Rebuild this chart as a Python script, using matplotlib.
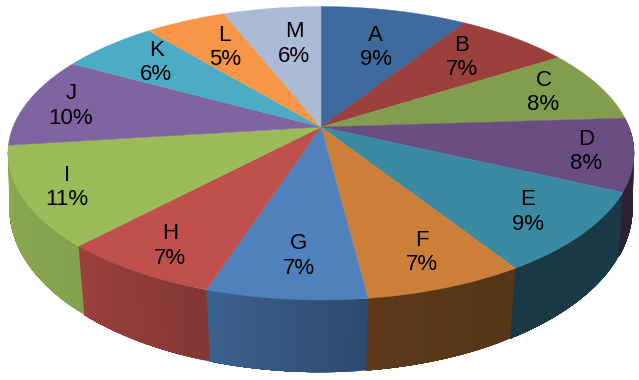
import numpy as np
import matplotlib
matplotlib.use('Agg')
import matplotlib.pyplot as plt
from matplotlib.colors import to_rgb

labels = ['A', 'B', 'C', 'D', 'E', 'F', 'G', 'H', 'I', 'J', 'K', 'L', 'M']
values = [9, 7, 8, 8, 9, 7, 7, 7, 11, 10, 6, 5, 6]

top_colors = ['#3F6A9E', '#9B403D', '#829D4D', '#6A4E83', '#3B8AA4', '#CC7F38', '#4F81BD',
              '#C0504D', '#9BBB59', '#8064A2', '#4BACC6', '#F79646', '#AABAD7']
# wall brightness at the start and end of each slice (going clockwise)
# None: the wall is round the back, not seen
shade_start = [None, None, None, 0.42, 0.42, 0.42, 0.58, 0.69, 0.86, None, None, None, None]
shade_end = [None, None, None, 0.42, 0.42, 0.45, 0.75, 0.8, 0.9, None, None, None, None]
# how far out from the centre each label sits, as a fraction of the radius
label_r = [0.66, 0.74, 0.80, 0.85, 0.81, 0.81, 0.78, 0.84, 0.86, 0.85, 0.77, 0.72, 0.67]
# labels are not quite on the middle of the slice
label_shift = [0.0035, -0.0066, -0.003, 0, 0, -0.0018, -0.0023, 0, 0, 0, 0.0034, 0.0047, 0.007]


def project_top(u, v):
    # top face, the 3d tilt makes the centre sit above the middle of the ellipse
    d = 1 - 0.179 * v
    return 321 + 308 * u / d, 127 + 142 * v / d


def project_bottom(u, v):
    d = 1 - 0.15 * v
    return 321 + 308 * u / d, 184 + 160 * v / d


def clockwise(frac):
    # fraction of the pie -> point on unit circle, 0 at the back, going clockwise
    a = 2 * np.pi * np.asarray(frac)
    return np.sin(a), -np.cos(a)


fig = plt.figure(figsize=(6.39, 3.80), dpi=100)
ax = fig.add_axes([0, 0, 1, 1])
ax.set_xlim(0, 639)
ax.set_ylim(380, 0)
ax.axis('off')

fracs = np.cumsum([0] + values) / float(sum(values))

# walls first, the top faces hide whatever is at the back
for k in range(len(values)):
    if shade_start[k] is None:
        continue
    n = 24
    ts = np.linspace(fracs[k], fracs[k + 1], n + 1)
    u, v = clockwise(ts)
    x1, y1 = project_top(u, v)
    x2, y2 = project_bottom(u, v)
    base = np.array(to_rgb(top_colors[k]))
    for i in range(n):
        s = shade_start[k] + (shade_end[k] - shade_start[k]) * i / (n - 1)
        # each strip runs to the end of the slice and the next paints over it, no seams
        ax.fill(np.r_[x1[i:], x2[i:][::-1]], np.r_[y1[i:], y2[i:][::-1]],
                facecolor=tuple(base * s), edgecolor='none', linewidth=0)

for k in range(len(values)):
    ts = np.linspace(fracs[k], fracs[k + 1], 60)
    u, v = clockwise(ts)
    x, y = project_top(np.r_[0, u], np.r_[0, v])
    ax.fill(x, y, facecolor=top_colors[k], edgecolor=top_colors[k], linewidth=0.3)

for k in range(len(values)):
    u, v = clockwise((fracs[k] + fracs[k + 1]) / 2 + label_shift[k])
    x, y = project_top(u * label_r[k], v * label_r[k])
    ax.text(x, y + 1, '%s\n%d%%' % (labels[k], values[k]), ha='center', va='center',
            fontsize=16, family='Liberation Sans', color='black', linespacing=1.22)

fig.savefig('out.png', dpi=100)
